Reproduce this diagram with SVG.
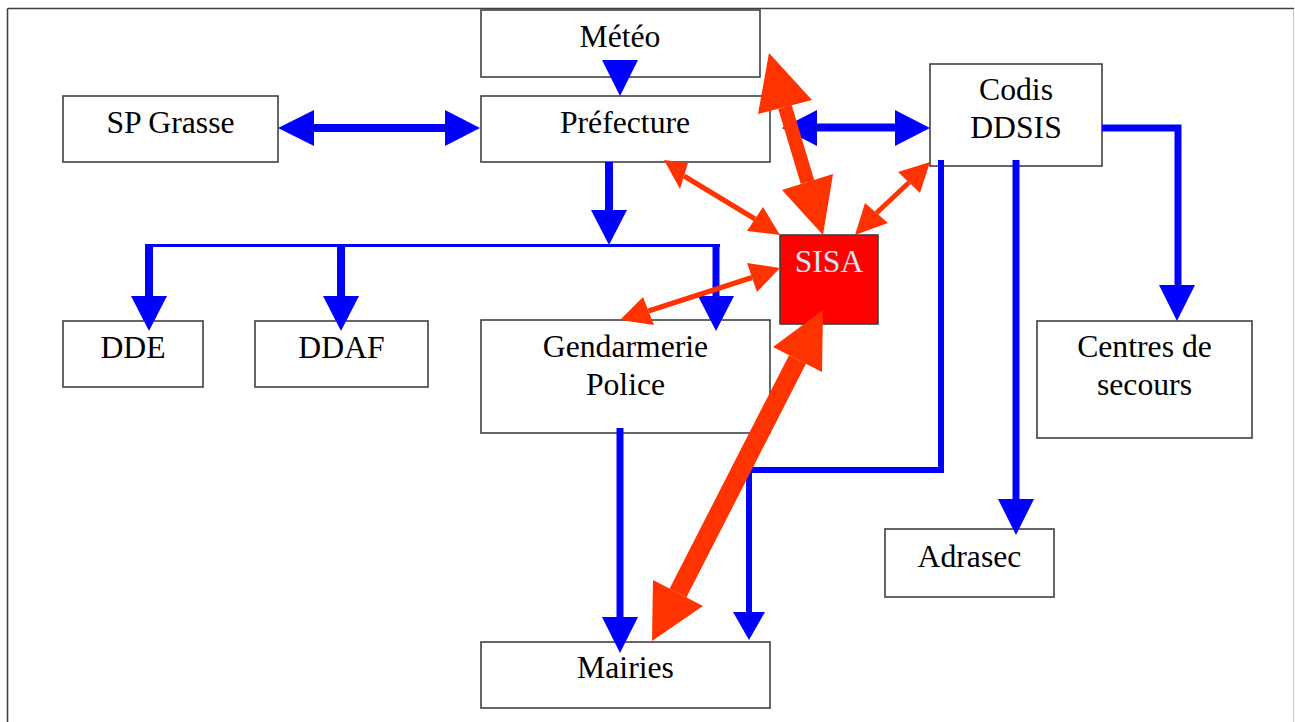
<svg xmlns="http://www.w3.org/2000/svg" width="1295" height="722" viewBox="0 0 1295 722">
<style>
.box{fill:#fff;stroke:#404040;stroke-width:1.6}
.t{font-family:"Liberation Serif","Times New Roman",serif;font-size:31.7px;fill:#000;text-anchor:middle}
.bl{stroke:#0000FF;fill:none}
.bh{fill:#0000FF}
.rl{stroke:#FF3300;fill:none}
.rh{fill:#FF3300}
</style>
<rect width="1295" height="722" fill="#fff"/>
<g id="frame">
<line x1="7.5" y1="8.5" x2="1294" y2="8.5" stroke="#404040" stroke-width="1.6"/>
<line x1="7.5" y1="8.5" x2="7.5" y2="722" stroke="#404040" stroke-width="1.6"/>
<line x1="1293.5" y1="9" x2="1293.5" y2="722" stroke="#c8c8c8" stroke-width="1.2"/>
</g>
<g id="meteo"><rect class="box" x="481" y="10" width="279" height="67"/><text class="t" x="620" y="47">Météo</text></g>
<g id="prefecture"><rect class="box" x="481" y="96" width="289" height="66"/><text class="t" x="625" y="133">Préfecture</text></g>
<g id="spgrasse"><rect class="box" x="63" y="96" width="215" height="66"/><text class="t" x="170.5" y="133">SP Grasse</text></g>
<g id="codis"><rect class="box" x="930" y="64" width="172" height="102"/><text class="t" x="1016" y="100">Codis</text><text class="t" x="1016" y="138">DDSIS</text></g>
<g id="dde"><rect class="box" x="63" y="321" width="140" height="66"/><text class="t" x="133" y="358">DDE</text></g>
<g id="ddaf"><rect class="box" x="255" y="321" width="173" height="66"/><text class="t" x="341.5" y="358">DDAF</text></g>
<g id="gendarmerie"><rect class="box" x="481" y="320" width="289" height="113"/><text class="t" x="625.5" y="357">Gendarmerie</text><text class="t" x="625.5" y="395">Police</text></g>
<g id="sisa"><rect x="780" y="235" width="98" height="89" fill="#FF0000" stroke="#404040" stroke-width="1.6"/><text class="t" x="829" y="272" style="fill:#CDE6F2">SISA</text></g>
<g id="centres"><rect class="box" x="1037" y="321" width="215" height="117"/><text class="t" x="1144.5" y="357">Centres de</text><text class="t" x="1144.5" y="395">secours</text></g>
<g id="adrasec"><rect class="box" x="885" y="529" width="169" height="68"/><text class="t" x="969.5" y="567">Adrasec</text></g>
<g id="mairies"><rect class="box" x="481" y="642" width="289" height="66"/><text class="t" x="625.5" y="678">Mairies</text></g>
<g id="connectors">
<!-- blue -->
<polygon class="bh" points="602,60 638,60 620,96"/>
<line class="bl" x1="312" y1="128" x2="447" y2="128" stroke-width="8"/>
<polygon class="bh" points="278,128 314,110 314,146"/>
<polygon class="bh" points="480,128 445,110 445,146"/>
<line class="bl" x1="815" y1="127.5" x2="897" y2="127.5" stroke-width="8"/>
<polygon class="bh" points="782,128 817,110 817,146"/>
<polygon class="bh" points="930,128 895,110 895,146"/>
<line class="bl" x1="609" y1="162" x2="609" y2="212" stroke-width="8"/>
<polygon class="bh" points="591,210 627,210 609,245"/>
<line class="bl" x1="145" y1="245.5" x2="720" y2="245.5" stroke-width="3"/>
<line class="bl" x1="149" y1="244" x2="149" y2="298" stroke-width="8"/>
<polygon class="bh" points="131,296 167,296 149,331"/>
<line class="bl" x1="341" y1="244" x2="341" y2="298" stroke-width="8"/>
<polygon class="bh" points="323,296 359,296 341,331"/>
<line class="bl" x1="716" y1="244" x2="716" y2="298" stroke-width="7"/>
<polygon class="bh" points="698,296 734,296 716,331"/>
<polyline class="bl" points="1102,128 1178,128 1178,287" stroke-width="7"/>
<polygon class="bh" points="1159,285 1195,285 1177,321"/>
<line class="bl" x1="1016" y1="160" x2="1016" y2="501" stroke-width="7"/>
<polygon class="bh" points="998,499 1034,499 1016,535"/>
<polyline class="bl" points="941,160 941,470 749,470 749,614" stroke-width="6"/>
<polygon class="bh" points="733,612 765,612 749,640"/>
<line class="bl" x1="620" y1="428" x2="620" y2="619" stroke-width="7"/>
<polygon class="bh" points="602,617 638,617 620,653"/>
<!-- red -->
<line class="rl" x1="785" y1="107" x2="807.5" y2="182" stroke-width="14"/>
<polygon class="rh" points="769,53 758,114 812,100"/>
<polygon class="rh" points="823,235 782,190 833,174"/>
<line class="rl" x1="797.5" y1="359.5" x2="678" y2="593" stroke-width="19"/>
<polygon class="rh" points="823,310 773,347 822,372"/>
<polygon class="rh" points="652,641 653,580 703,606"/>
<line class="rl" x1="684" y1="176" x2="755" y2="219" stroke-width="5"/>
<polygon class="rh" points="664,160 688,163 680,189"/>
<polygon class="rh" points="780,235 747,231 763,207"/>
<line class="rl" x1="909" y1="182.5" x2="876.5" y2="213" stroke-width="5"/>
<polygon class="rh" points="930,162 898,172 920,193"/>
<polygon class="rh" points="855,235 865,203 888,223"/>
<line class="rl" x1="752" y1="277.5" x2="648.5" y2="311" stroke-width="5"/>
<polygon class="rh" points="780,268 747,263 757,292"/>
<polygon class="rh" points="620,320 643,297 654,325"/>
</g>
</svg>
